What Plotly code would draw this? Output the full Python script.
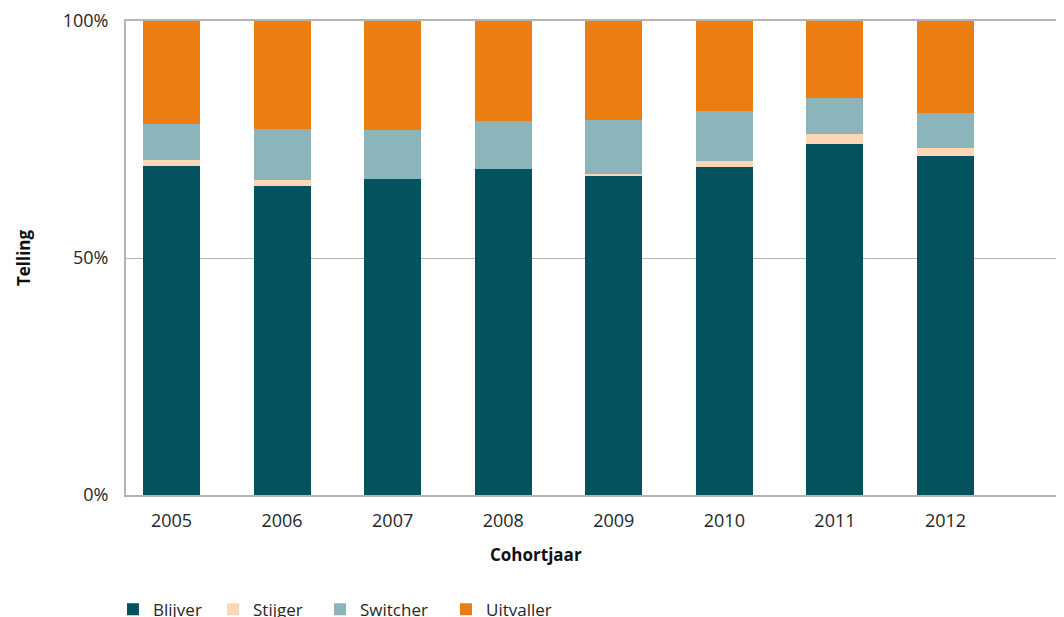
import plotly.graph_objects as go

years = ["2005", "2006", "2007", "2008", "2009", "2010", "2011", "2012"]
blijver = [69.5, 65.1, 66.6, 68.7, 67.4, 69.1, 74.1, 71.6]
stijger = [1.3, 1.3, 0.0, 0.0, 0.4, 1.3, 2.1, 1.7]
switcher = [7.6, 10.9, 10.5, 10.1, 11.4, 10.7, 7.6, 7.4]
uitvaller = [21.7, 22.7, 22.9, 21.2, 20.8, 18.9, 16.2, 19.4]

series_names = ["Blijver", "Stijger", "Switcher", "Uitvaller"]
series_values = [blijver, stijger, switcher, uitvaller]
series_colors = ["#02535E", "#FBD7B5", "#8BB4BB", "#EC7D12"]
legend_ids = ["legend", "legend2", "legend3", "legend4"]

y_tickvals = [0, 50, 100]
y_ticktext = ["0%", "50%", "100%"]

FONT = "Open Sans"
TXT = "#262626"
OFF = 8  # page body margin offset

fig = go.Figure()
for name, vals, col, lg in zip(series_names, series_values, series_colors, legend_ids):
    fig.add_trace(go.Bar(x=years, y=vals, name=name, marker_color=col,
                         marker_line_width=0, legend=lg))

W, H = 1064, 617
ml = 126 - OFF
mt = 21 - OFF
plot_bottom = 495.3 - OFF
mb = H - plot_bottom
mr = 0
pw = W - ml - mr
ph = H - mt - mb

legend_marker_x = [127, 227, 334, 460]
legend_top = 592 - OFF
legend_layout = {}
for lg, mx in zip(legend_ids, legend_marker_x):
    legend_layout[lg] = dict(
        orientation="h", x=(mx - OFF - 14 - ml) / pw, xanchor="left",
        y=-(legend_top - plot_bottom) / ph, yanchor="top",
        font=dict(family=FONT, size=17, color=TXT),
        bgcolor="rgba(0,0,0,0)", borderwidth=0,
    )

fig.update_layout(
    width=W, height=H,
    margin=dict(l=ml, r=mr, t=mt, b=mb, autoexpand=False),
    barmode="stack", barnorm="percent", bargap=0.4845,
    plot_bgcolor="white", paper_bgcolor="white",
    font=dict(family=FONT, size=17, color=TXT),
    showlegend=True,
    **legend_layout,
)
fig.update_xaxes(
    type="category", range=[-0.4115, -0.4115 + pw / 110.57],
    showline=True, linecolor="#B4B4B4", linewidth=2, mirror=True,
    showgrid=False, ticks="outside", ticklen=8, tickcolor="rgba(0,0,0,0)",
    tickfont=dict(family=FONT, size=18, color=TXT),
)
fig.update_yaxes(
    range=[0, 100], tickvals=y_tickvals, ticktext=y_ticktext,
    showline=True, linecolor="#B4B4B4", linewidth=2,
    showgrid=True, gridcolor="#B4B4B4", gridwidth=1, zeroline=False,
    ticks="outside", ticklen=12, tickcolor="rgba(0,0,0,0)",
    tickfont=dict(family=FONT, size=18, color=TXT),
    title=dict(text="<b>Telling</b>", font=dict(family=FONT, size=17, color="#111"), standoff=28),
)
fig.add_annotation(
    text="<b>Cohortjaar</b>", xref="paper", yref="paper",
    x=(536 - OFF - ml) / pw, y=-(555 - OFF - plot_bottom) / ph,
    xanchor="center", yanchor="middle",
    showarrow=False, font=dict(family=FONT, size=17, color="#111"),
)

fig.write_html("out.html")
